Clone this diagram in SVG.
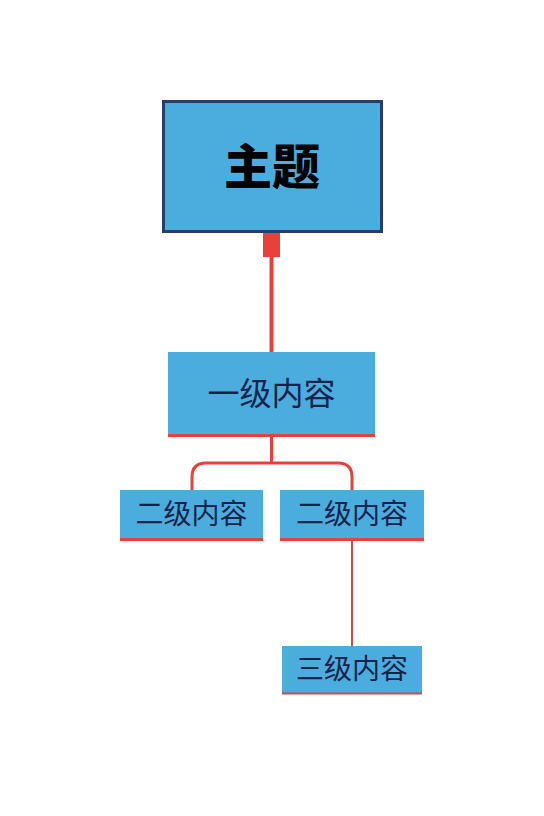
<svg xmlns="http://www.w3.org/2000/svg" width="544" height="816" viewBox="0 0 544 816">
<style>
.box{fill:#4badde;}
.under{stroke:#e8413a;stroke-width:3;}
.lbl{font-family:"Noto Sans CJK SC","Noto Sans",sans-serif;fill:#14234a;text-anchor:middle;}
.conn{fill:none;stroke:#e8413a;stroke-linecap:butt;}
</style>
<rect width="544" height="816" fill="#ffffff"/>
<g id="connectors">
<rect x="263" y="233" width="17" height="24" fill="#e8413a"/>
<line class="conn" x1="271.5" y1="257" x2="271.5" y2="352" stroke-width="4"/>
<path class="conn" d="M271.5 437 V463 M192 490 V477 Q192 463 206 463 H338 Q352 463 352 477 V490" stroke-width="3"/>
<line class="conn" x1="352" y1="541" x2="352" y2="646" stroke-width="2" style="stroke:#cf4a48"/>
</g>
<g id="node-main">
<rect x="163.5" y="101.5" width="218" height="130" fill="#4badde" stroke="#2a3d6a" stroke-width="3"/>
<text class="lbl" x="272" y="184" font-size="48" font-weight="900" style="fill:#000">主题</text>
</g>
<g id="node-l1">
<rect class="box" x="168" y="352" width="207" height="84"/>
<line class="under" x1="168" y1="435.5" x2="375" y2="435.5"/>
<text class="lbl" x="271.5" y="405" font-size="32">一级内容</text>
</g>
<g id="node-l2a">
<rect class="box" x="120" y="490" width="143" height="50"/>
<line class="under" x1="120" y1="539.5" x2="263" y2="539.5"/>
<text class="lbl" x="191.5" y="524" font-size="28">二级内容</text>
</g>
<g id="node-l2b">
<rect class="box" x="280" y="490" width="144" height="50"/>
<line class="under" x1="280" y1="539.5" x2="424" y2="539.5"/>
<text class="lbl" x="352" y="524" font-size="28">二级内容</text>
</g>
<g id="node-l3">
<rect class="box" x="282" y="646" width="140" height="48"/>
<line class="under" x1="282" y1="693.5" x2="422" y2="693.5" style="stroke:#cf4a48;stroke-width:2"/>
<text class="lbl" x="352" y="679" font-size="28">三级内容</text>
</g>
</svg>
